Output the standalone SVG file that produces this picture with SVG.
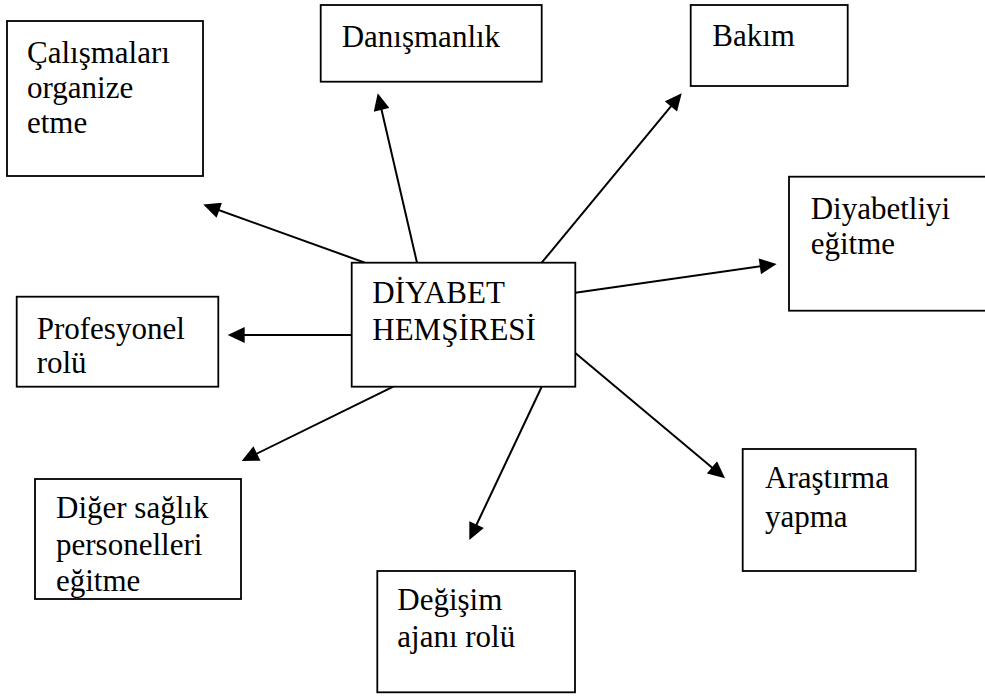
<svg xmlns="http://www.w3.org/2000/svg" width="985" height="698" viewBox="0 0 985 698">
<style>
.box{fill:#fff;stroke:#000;stroke-width:1.8}
.lbl{font-family:"Liberation Serif","Times New Roman",serif;font-size:31px;fill:#000}
.con{stroke:#000;stroke-width:2;fill:none;marker-end:url(#ah)}
</style>
<defs>
<marker id="ah" markerUnits="userSpaceOnUse" markerWidth="18" markerHeight="16" viewBox="0 0 17 16" refX="14" refY="8" orient="auto">
<path d="M0,0 L17,8 L0,16 z" fill="#000"/>
</marker>
<clipPath id="clipDiger"><rect x="35" y="479" width="206" height="119"/></clipPath>
</defs>
<rect width="985" height="698" fill="#fff"/>
<g id="connectors">
<line class="con" x1="365" y1="262.7" x2="206.1" y2="205.5"/>
<line class="con" x1="417" y1="262.7" x2="378.4" y2="96.2"/>
<line class="con" x1="541.7" y1="262.7" x2="679.8" y2="95.6"/>
<line class="con" x1="575.3" y1="292.7" x2="773.7" y2="264.4"/>
<line class="con" x1="575.3" y1="353" x2="722.7" y2="476.4"/>
<line class="con" x1="541.7" y1="386.7" x2="470.6" y2="537.3"/>
<line class="con" x1="393.3" y1="386.7" x2="244.4" y2="459.7"/>
<line class="con" x1="351.7" y1="335" x2="230.7" y2="335"/>
</g>
<g id="center">
<rect class="box" x="351.7" y="262.7" width="223.6" height="124"/>
<text class="lbl" x="372.3" y="303.3">DİYABET</text>
<text class="lbl" x="372.3" y="340">HEMŞİRESİ</text>
</g>
<g id="calismalari">
<rect class="box" x="7" y="21" width="196" height="155"/>
<text class="lbl" x="27" y="63.3">Çalışmaları</text>
<text class="lbl" x="27" y="98">organize</text>
<text class="lbl" x="27" y="133">etme</text>
</g>
<g id="danismanlik">
<rect class="box" x="320.7" y="5" width="221" height="76.7"/>
<text class="lbl" x="341.7" y="46.7">Danışmanlık</text>
</g>
<g id="bakim">
<rect class="box" x="690.7" y="5" width="157" height="81"/>
<text class="lbl" x="712.3" y="45.7">Bakım</text>
</g>
<g id="diyabetliyi">
<rect class="box" x="789" y="176.7" width="210" height="134"/>
<text class="lbl" x="810.7" y="219">Diyabetliyi</text>
<text class="lbl" x="810.7" y="254">eğitme</text>
</g>
<g id="profesyonel">
<rect class="box" x="16.7" y="296.7" width="201.6" height="90"/>
<text class="lbl" x="36.7" y="339">Profesyonel</text>
<text class="lbl" x="36.7" y="373">rolü</text>
</g>
<g id="diger">
<rect class="box" x="35" y="479" width="206" height="120"/>
<g clip-path="url(#clipDiger)">
<text class="lbl" x="56" y="518.3">Diğer sağlık</text>
<text class="lbl" x="56" y="555">personelleri</text>
<text class="lbl" x="56" y="591">eğitme</text>
</g>
</g>
<g id="degisim">
<rect class="box" x="377.3" y="571" width="197.7" height="121.3"/>
<text class="lbl" x="397.3" y="610">Değişim</text>
<text class="lbl" x="397.3" y="647">ajanı rolü</text>
</g>
<g id="arastirma">
<rect class="box" x="742.7" y="449" width="173" height="122"/>
<text class="lbl" x="765" y="488">Araştırma</text>
<text class="lbl" x="765" y="527">yapma</text>
</g>
</svg>
